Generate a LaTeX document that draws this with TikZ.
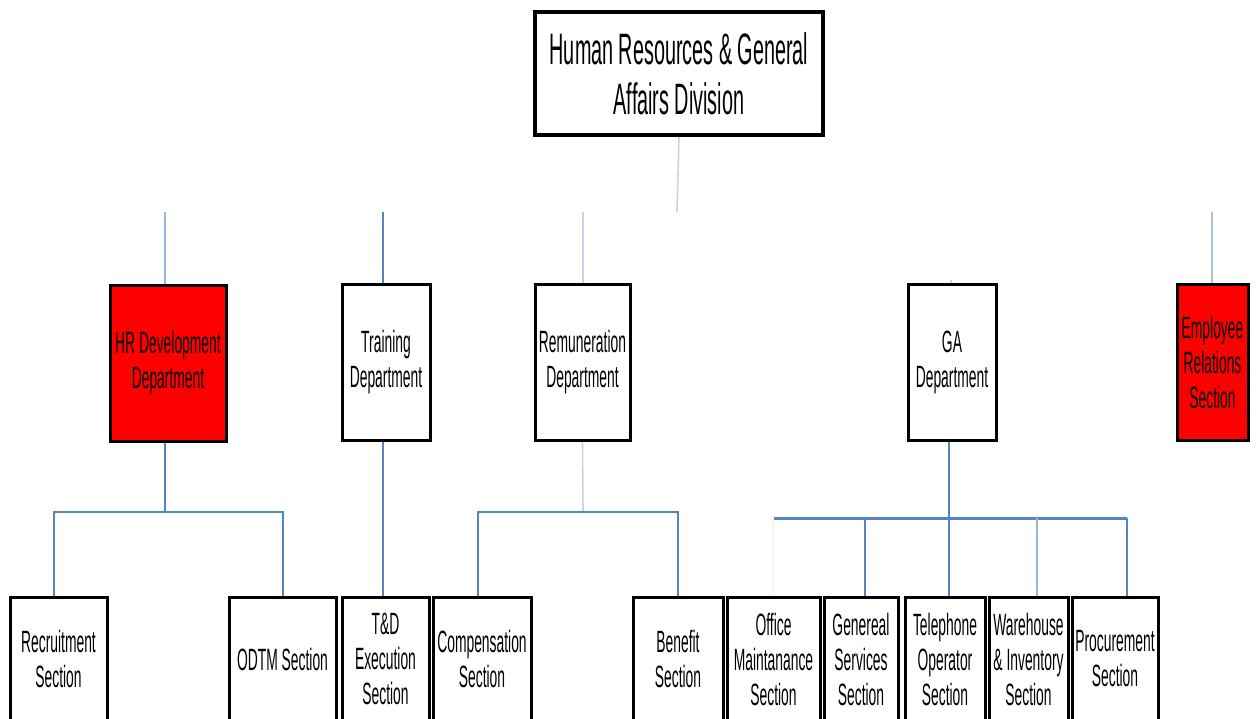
\documentclass[tikz,border=0pt]{standalone}
\usepackage{fontspec}
\setmainfont[FakeStretch=0.45]{Liberation Sans}
\definecolor{linkblue}{RGB}{84,133,192}
\definecolor{faintblue}{RGB}{196,212,234}

\begin{document}
\begin{tikzpicture}[
      x=0.5pt, y=-0.5pt,
      unit/.style={draw, line width=1.5pt, fill=white, align=center, inner sep=0pt,
        font=\fontsize{15.4}{17.5}\selectfont},
      dept/.style={unit, minimum height=78pt},
      section/.style={unit, minimum height=62pt},
      urgent/.style={fill=red},
      link/.style={draw=linkblue, line width=1pt},
      faintlink/.style={draw=faintblue, line width=0.8pt},
  ]
    \clip (0,0) rectangle (1259,718);

    \node[unit, line width=2.2pt, minimum width=144pt, minimum height=61.5pt,
      font=\fontsize{22}{25}\selectfont] (div) at (679,73.5)
      {Human Resources \& General\\Affairs Division};

    \node[dept, urgent, minimum width=58pt] (hrd) at (168,363) {HR Development\\Department};
    \node[dept, minimum width=44pt] (trn) at (386,362.5) {Training\\Department};
    \node[dept, minimum width=47.5pt] (rem) at (582.5,362.5) {Remuneration\\Department};
    \node[dept, minimum width=44pt] (ga) at (952,362.5) {GA\\Department};
    \node[dept, urgent, minimum width=35.5pt] (emp) at (1212.5,362.5) {Employee\\Relations\\Section};

    \node[section, minimum width=48.5pt] (rec) at (58.5,659) {Recruitment\\Section};
    \node[section, minimum width=53.5pt] (odtm) at (282.5,659) {ODTM Section};
    \node[section, minimum width=43.5pt] (tde) at (385.5,659) {T\&D\\Execution\\Section};
    \node[section, minimum width=49pt] (cmp) at (482,659) {Compensation\\Section};
    \node[section, minimum width=45pt] (ben) at (678,659) {Benefit\\Section};
    \node[section, minimum width=46.5pt] (off) at (773.5,659) {Office\\Maintanance\\Section};
    \node[section, minimum width=37pt] (gen) at (861,659) {Genereal\\Services\\Section};
    \node[section, minimum width=40pt] (tel) at (945,659) {Telephone\\Operator\\Section};
    \node[section, minimum width=39.5pt] (war) at (1028.5,659) {Warehouse\\\& Inventory\\Section};
    \node[section, minimum width=43pt] (pro) at (1115,659) {Procurement\\Section};

    \coordinate (divstub) at (677,212);
    \coordinate (hrdstub) at (165,212);
    \coordinate (trnstub) at (383,212);
    \coordinate (remstub) at (583,212);
    \coordinate (gastub) at (951,280);
    \coordinate (empstub) at (1212,212);
    \coordinate (hrbus) at (165,512);
    \coordinate (rembus) at (583,512);
    \coordinate (gabus) at (949,518);

    \draw[faintlink] (div.south) -- (divstub);
    \draw[link, draw=linkblue!60] (hrdstub) -- (hrdstub |- hrd.north);
    \draw[link] (trnstub) -- (trnstub |- trn.north);
    \draw[faintlink] (remstub) -- (remstub |- rem.north);
    \draw[faintlink] (gastub) -- (gastub |- ga.north);
    \draw[link, draw=linkblue!50] (empstub) -- (empstub |- emp.north);

    \draw[link] (hrbus |- hrd.south) -- (hrbus);
    \draw[link] ([xshift=-2.5pt]rec.north) |- (hrbus) -| (odtm.north);

    \draw[link] (trnstub |- trn.south) -- (trnstub |- tde.north);

    \draw[faintlink] (rem.south) -- (rembus);
    \draw[link] ([xshift=-2pt]cmp.north) |- (rembus) -| (ben.north);

    \draw[link] (gabus |- ga.south) -- (gabus) -- (gabus |- tel.north);
    \draw[link, line width=1.5pt] (off.north |- gabus) -- ([xshift=6pt]pro.north |- gabus);
    \draw[faintlink, draw=faintblue!25] (off.north) -- (off.north |- gabus);
    \draw[link] ([xshift=2pt]gen.north) -- ([xshift=2pt]gen.north |- gabus);
    \draw[link, draw=linkblue!60] ([xshift=4pt]war.north) -- ([xshift=4pt]war.north |- gabus);
    \draw[link] ([xshift=6pt]pro.north) -- ([xshift=6pt]pro.north |- gabus);
  \end{tikzpicture}
\end{document}
